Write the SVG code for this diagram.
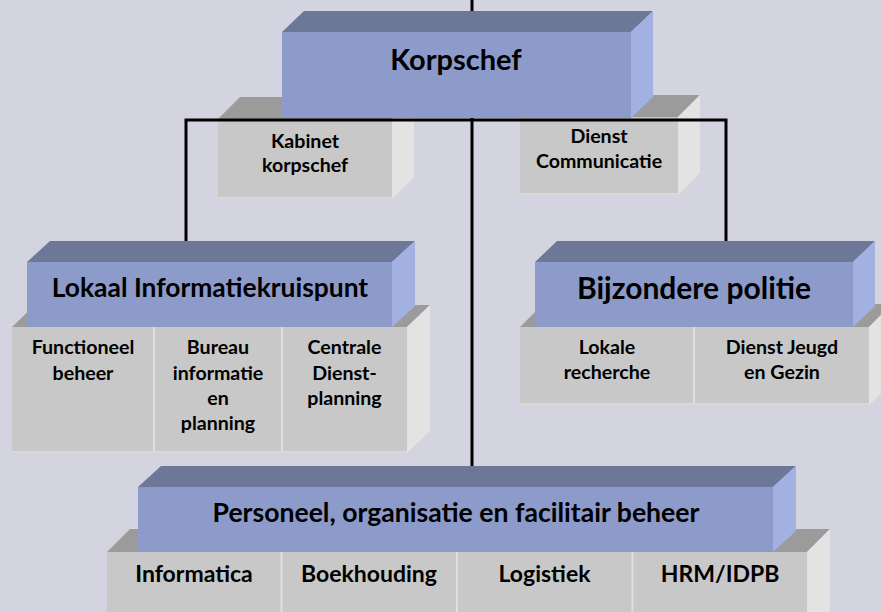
<svg xmlns="http://www.w3.org/2000/svg" width="881" height="612" viewBox="0 0 881 612">
<style>
.bf{fill:#8C9BC9}
.bt{fill:#6D7899}
.bs{fill:#A3B1E2}
.gf{fill:#C8C8C8}
.gt{fill:#9B9B9B}
.gs{fill:#E3E3E3}
.gb{stroke:#D9D9D9;stroke-width:2;fill:none}
.dv{stroke:#DEDEDE;stroke-width:2;fill:none}
.conn{stroke:#000;stroke-width:3;fill:none;stroke-linejoin:miter}
text{font-family:Lato,"Open Sans","Liberation Sans",sans-serif;font-weight:bold;fill:#000;text-anchor:middle}
.s{font-size:19.6px}
.m{font-size:23px}
</style>
<rect width="881" height="612" fill="#D4D4E0"/>

<g id="kabinet">
<polygon class="gt" points="218,119 240,97 414,97 392,119"/>
<polygon class="gs" points="392,119 414,97 414,177 392,199"/>
<rect class="gf" x="218" y="119" width="174" height="80"/>
<line class="gb" x1="218" y1="198" x2="392" y2="198"/>
<text class="s" x="305" y="148">Kabinet</text>
<text class="s" x="305" y="172">korpschef</text>
</g>

<g id="dienst-communicatie">
<polygon class="gt" points="520,117 542,95 700,95 678,117"/>
<polygon class="gs" points="678,117 700,95 700,173 678,195"/>
<rect class="gf" x="520" y="117" width="158" height="78"/>
<line class="gb" x1="520" y1="194" x2="678" y2="194"/>
<text class="s" x="599" y="143">Dienst</text>
<text class="s" x="599" y="168">Communicatie</text>
</g>

<g id="korpschef">
<polygon class="bt" points="282,32 304,11 653,11 631,32"/>
<polygon class="bs" points="631,32 653,11 653,97 631,118"/>
<rect class="bf" x="282" y="32" width="349" height="86"/>
<text x="456" y="70" font-size="29">Korpschef</text>
</g>

<g id="lokaal-sub">
<polygon class="gt" points="12,327 35,305 430,305 407,327"/>
<polygon class="gs" points="407,327 430,305 430,431 407,453"/>
<rect class="gf" x="12" y="327" width="395" height="126"/>
<line class="gb" x1="12" y1="452" x2="407" y2="452"/>
<line class="dv" x1="154" y1="327" x2="154" y2="452"/>
<line class="dv" x1="282" y1="327" x2="282" y2="452"/>
<text class="s" x="83" y="354">Functioneel</text>
<text class="s" x="83" y="380">beheer</text>
<text class="s" x="218" y="354">Bureau</text>
<text class="s" x="218" y="380">informatie</text>
<text class="s" x="218" y="405">en</text>
<text class="s" x="218" y="430">planning</text>
<text class="s" x="344.5" y="354">Centrale</text>
<text class="s" x="344.5" y="380">Dienst-</text>
<text class="s" x="344.5" y="405">planning</text>
</g>

<g id="lokaal-informatiekruispunt">
<polygon class="bt" points="27,262 50,241 415,241 392,262"/>
<polygon class="bs" points="392,262 415,241 415,306 392,327"/>
<rect class="bf" x="27" y="262" width="365" height="65"/>
<text x="210" y="297" font-size="26.4">Lokaal Informatiekruispunt</text>
</g>

<g id="bijzondere-sub">
<polygon class="gt" points="520,327 543,304 892,304 869,327"/>
<polygon class="gs" points="869,327 892,304 892,382 869,405"/>
<rect class="gf" x="520" y="327" width="349" height="78"/>
<line class="gb" x1="520" y1="404" x2="869" y2="404"/>
<line class="dv" x1="694" y1="327" x2="694" y2="404"/>
<text class="s" x="607" y="354">Lokale</text>
<text class="s" x="607" y="379">recherche</text>
<text class="s" x="782" y="354">Dienst Jeugd</text>
<text class="s" x="782" y="379">en Gezin</text>
</g>

<g id="bijzondere-politie">
<polygon class="bt" points="535,262 557,241 875,241 853,262"/>
<polygon class="bs" points="853,262 875,241 875,306 853,327"/>
<rect class="bf" x="535" y="262" width="318" height="65"/>
<text x="694" y="299" font-size="30">Bijzondere politie</text>
</g>

<g id="personeel-sub">
<polygon class="gt" points="107,552 130,529 830,529 807,552"/>
<polygon class="gs" points="807,552 830,529 830,612 807,612"/>
<rect class="gf" x="107" y="552" width="700" height="60"/>
<line class="dv" x1="281.5" y1="552" x2="281.5" y2="612"/>
<line class="dv" x1="457" y1="552" x2="457" y2="612"/>
<line class="dv" x1="632.5" y1="552" x2="632.5" y2="612"/>
<text class="m" x="194" y="582">Informatica</text>
<text class="m" x="369" y="582">Boekhouding</text>
<text class="m" x="544.5" y="582">Logistiek</text>
<text class="m" x="720" y="582">HRM/IDPB</text>
</g>

<g id="personeel">
<polygon class="bt" points="138,487 161,466 796,466 773,487"/>
<polygon class="bs" points="773,487 796,466 796,531 773,552"/>
<rect class="bf" x="138" y="487" width="635" height="65"/>
<text x="456" y="522" font-size="26.6">Personeel, organisatie en facilitair beheer</text>
</g>

<g id="connectors">
<path class="conn" d="M186,241 V120 H726 V241"/>
<path class="conn" d="M472,0 V11 M472,118 V466"/>
</g>
</svg>
